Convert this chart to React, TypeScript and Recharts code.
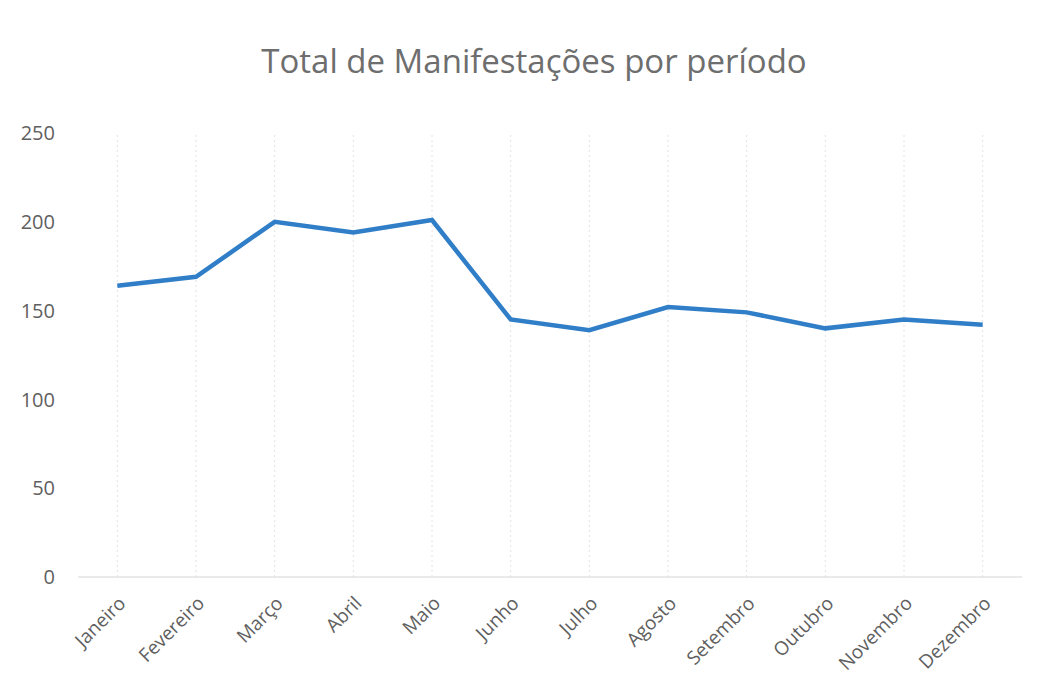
import { Line, LineChart, ReferenceLine, XAxis, YAxis } from 'recharts';

const MONTHS = [
  'Janeiro',
  'Fevereiro',
  'Março',
  'Abril',
  'Maio',
  'Junho',
  'Julho',
  'Agosto',
  'Setembro',
  'Outubro',
  'Novembro',
  'Dezembro',
];

const TOTALS = [164, 169, 200, 194, 201, 145, 139, 152, 149, 140, 145, 142];

const Y_TICKS = [0, 50, 100, 150, 200, 250];

const data = MONTHS.map((m, i) => ({ mes: m, total: TOTALS[i] }));

const FONT = 'Open Sans, Noto Sans, sans-serif';

export default function App() {
  return (
    <div
      style={{
        position: 'absolute',
        left: 0,
        top: 0,
        width: 1053,
        height: 682,
        background: '#fff',
        fontFamily: FONT,
      }}
    >
      <div
        style={{
          position: 'absolute',
          top: 38,
          left: 0,
          width: 1068,
          textAlign: 'center',
          fontSize: 33,
          color: '#6e6e6e',
        }}
      >
        Total de Manifestações por período
      </div>
      <LineChart
        width={1053}
        height={682}
        data={data}
        margin={{ top: 133, right: 31, bottom: 5, left: 0 }}
      >
        {MONTHS.map((m) => (
          <ReferenceLine
            key={m}
            x={m}
            stroke="#e2e2e2"
            strokeDasharray="2 3"
          />
        ))}
        <XAxis
          dataKey="mes"
          scale="band"
          height={100}
          axisLine={{ stroke: '#d4d4d4' }}
          tickLine={false}
          interval={0}
          angle={-45}
          textAnchor="end"
          tick={{ fill: '#5f5f5f', fontSize: 19, fontFamily: FONT, dx: 0, dy: 10 }}
        />
        <YAxis
          width={78}
          domain={[0, 250]}
          ticks={Y_TICKS}
          axisLine={false}
          tickLine={false}
          tickSize={0}
          tickMargin={23}
          tick={{ fill: '#5f5f5f', fontSize: 20, fontFamily: FONT }}
        />
        <Line
          type="linear"
          dataKey="total"
          stroke="#2f7ec7"
          strokeWidth={4.5}
          dot={false}
          isAnimationActive={false}
        />
      </LineChart>
    </div>
  );
}
